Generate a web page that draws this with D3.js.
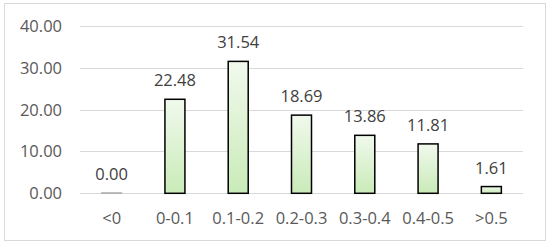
<!DOCTYPE html>
<html>
<head>
<meta charset="utf-8">
<script src="https://cdn.jsdelivr.net/npm/d3@7"></script>
<style>
  body { margin: 0; background: #fff; }
  text { font-family: "Open Sans", sans-serif; fill: #595959; }
</style>
</head>
<body>
<script>
var categories = ["<0", "0-0.1", "0.1-0.2", "0.2-0.3", "0.3-0.4", "0.4-0.5", ">0.5"],
    values = [0.00, 22.48, 31.54, 18.69, 13.86, 11.81, 1.61],
    yTicks = [0, 10, 20, 30, 40];

var width = 550,
    height = 248,
    margin = {left: 80, right: 27, top: 26, bottom: 55},

svg = d3.select("body").append("svg")
    .attr("width", width)
    .attr("height", height);

// outer chart frame
svg.append("rect")
    .attr("x", 4.5).attr("y", 3.5)
    .attr("width", 541).attr("height", 237)
    .attr("fill", "#fff")
    .attr("stroke", "#d9d9d9");

var defs = svg.append("defs"),
    grad = defs.append("linearGradient")
      .attr("id", "barFill")
      .attr("x1", 0).attr("y1", 0).attr("x2", 0).attr("y2", 1);
grad.append("stop").attr("offset", "0%").attr("stop-color", "#f1f9ed");
grad.append("stop").attr("offset", "100%").attr("stop-color", "#c9ebb8");

var x = d3.scaleBand()
    .domain(categories)
    .range([margin.left, width - margin.right]);

var y = d3.scaleLinear()
    .domain([0, 40])
    .range([193.3, 26]);

// gridlines
svg.append("g").selectAll("line")
    .data(yTicks)
    .enter().append("line")
      .attr("x1", margin.left)
      .attr("x2", width - margin.right)
      .attr("y1", function(d){ return Math.round(y(d)) + 0.5; })
      .attr("y2", function(d){ return Math.round(y(d)) + 0.5; })
      .attr("stroke", "#d9d9d9")
      .attr("stroke-width", 1);

// y axis labels
svg.append("g").selectAll("text")
    .data(yTicks)
    .enter().append("text")
      .attr("x", 62)
      .attr("y", function(d){ return y(d) + 6; })
      .attr("text-anchor", "end")
      .style("font-size", "16.5px")
      .text(function(d){ return d3.format(".2f")(d); });

// x axis labels
svg.append("g").selectAll("text")
    .data(categories)
    .enter().append("text")
      .attr("x", function(d){ return x(d) + x.bandwidth()/2; })
      .attr("y", 224)
      .attr("text-anchor", "middle")
      .style("font-size", "16.5px")
      .text(function(d){ return d; });

var barW = 20;

// bars (a zero bar still shows as a thin grey line)
svg.append("g").selectAll("rect")
    .data(values)
    .enter().append("rect")
      .attr("x", function(d, i){ return x(categories[i]) + x.bandwidth()/2 - barW/2; })
      .attr("y", function(d){ return Math.min(y(d), y(0) - 0.5); })
      .attr("width", barW)
      .attr("height", function(d){ return Math.max(y(0) - y(d), 0.5); })
      .attr("fill", "url(#barFill)")
      .attr("stroke", function(d){ return d > 0 ? "#000" : "#a6a6a6"; })
      .attr("stroke-width", function(d){ return d > 0 ? 1.5 : 1; });

// value labels
svg.append("g").selectAll("text")
    .data(values)
    .enter().append("text")
      .attr("x", function(d, i){ return x(categories[i]) + x.bandwidth()/2; })
      .attr("y", function(d){ return y(d) - 13; })
      .attr("text-anchor", "middle")
      .style("font-size", "16.5px")
      .style("fill", "#404040")
      .text(function(d){ return d3.format(".2f")(d); });
</script>
</body>
</html>
